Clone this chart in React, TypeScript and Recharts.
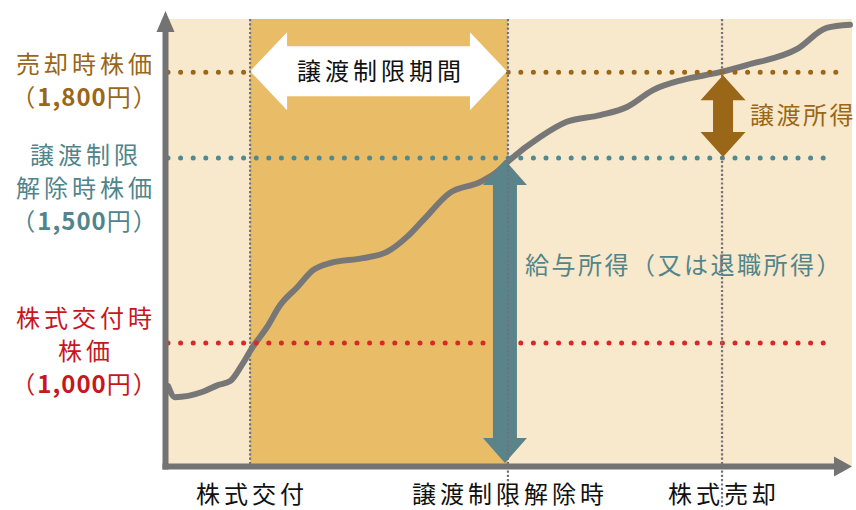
import React from "react";
import {
  ComposedChart,
  Line,
  XAxis,
  YAxis,
  ReferenceArea,
  ReferenceLine,
} from "recharts";

// time axis runs 0..100, price is a relative height 0..100 (conceptual chart)
const times = [
  0, 1.0, 5.1, 7.3, 9.1, 10.8, 12.3, 14.5, 16.4, 18.9, 21.2, 23.7, 28.5, 32.0,
  34.9, 37.3, 41.2, 45.6, 48.1, 50.0, 54.4, 58.3, 63.2, 67.1, 70.9, 75.3, 80.7,
  84.6, 92.0, 96.3, 99.7,
];
const prices = [
  17.9, 15.4, 16.6, 18.1, 19.0, 22.6, 26.4, 31.1, 36.0, 40.0, 43.8, 45.4, 46.5,
  47.9, 51.2, 55.0, 61.1, 63.5, 65.8, 68.5, 73.6, 77.0, 78.5, 80.3, 84.1, 86.4,
  88.1, 89.7, 93.3, 98.0, 98.7,
];

// events on the time axis
const eventTimes = [12, 49.7, 81];
const eventLabels = ["株式交付", "譲渡制限解除時", "株式売却"];

// price levels (交付時 / 解除時 / 売却時)
const priceLevels = [27.5, 68.9, 88.1];
const levelNames = [["株式交付時", "株価"], ["譲渡制限", "解除時株価"], ["売却時株価"]];
const levelAmounts = ["1,000", "1,500", "1,800"];
const levelColors = ["#c8161d", "#4f858b", "#9a6617"];
const dotColors = ["#d62a28", "#4e8a90", "#9a6617"];
// where the first label line sits relative to the level line
const labelShift = [-25.5, -3, -8];

const data = times.map((t, i) => ({ t, v: prices[i] }));

const FONT = "'Noto Sans CJK JP', 'Noto Sans', sans-serif";
const AXIS = "#737373";
const LIGHT_BG = "#f8e8cc";
const BAND_BG = "#e9bc68";
const TEAL_ARROW = "#5a848a";
const BROWN = "#9a6617";

function doubleArrowPath(
  x1: number,
  y1: number,
  x2: number,
  y2: number,
  shaft: number,
  head: number,
  headLen: number
) {
  const dx = x2 - x1;
  const dy = y2 - y1;
  const L = Math.hypot(dx, dy);
  const ux = dx / L;
  const uy = dy / L;
  const nx = -uy;
  const ny = ux;
  const pts = [
    [0, 0],
    [headLen, head],
    [headLen, shaft],
    [L - headLen, shaft],
    [L - headLen, head],
    [L, 0],
    [L - headLen, -head],
    [L - headLen, -shaft],
    [headLen, -shaft],
    [headLen, -head],
  ];
  return (
    pts
      .map(([a, b], i) => `${i ? "L" : "M"}${x1 + ux * a + nx * b},${y1 + uy * a + ny * b}`)
      .join(" ") + "Z"
  );
}

function LevelTick(props: any) {
  const { x, y, payload } = props;
  const i = priceLevels.indexOf(payload.value);
  if (i < 0) return null;
  const names = levelNames[i];
  const cx = x - 74;
  const top = y + labelShift[i];
  const pitch = 33;
  const color = levelColors[i];
  return (
    <g fontFamily={FONT} fontSize={24} fill={color} textAnchor="middle">
      {names.map((n, k) => (
        <text key={k} x={cx} y={top + k * pitch + 9} letterSpacing={4}>
          {n}
        </text>
      ))}
      <text x={cx - 1} y={top + names.length * pitch + 9} letterSpacing={2}>
        <tspan>（</tspan>
        <tspan fontWeight="bold" letterSpacing={1}>
          {levelAmounts[i]}
        </tspan>
        <tspan>円）</tspan>
      </text>
    </g>
  );
}

function EventTick(props: any) {
  const { x, y, payload } = props;
  const i = eventTimes.indexOf(payload.value);
  if (i < 0) return null;
  return (
    <text
      x={x + 2}
      y={y + 29}
      textAnchor="middle"
      fontFamily={FONT}
      fontSize={24}
      fill="#111"
      letterSpacing={4}
    >
      {eventLabels[i]}
    </text>
  );
}

export default function App() {
  return (
    <div style={{ position: "absolute", left: 0, top: 0, background: "#fff" }}>
      <ComposedChart
        width={856}
        height={510}
        data={data}
        margin={{ top: 19, right: 4, bottom: 0, left: 0 }}
      >
        <XAxis
          type="number"
          dataKey="t"
          domain={[0, 100]}
          ticks={eventTimes}
          interval={0}
          height={44}
          axisLine={false}
          tickLine={false}
          tick={<EventTick />}
          zIndex={90}
        />
        <YAxis
          type="number"
          domain={[0, 100]}
          ticks={priceLevels}
          interval={0}
          width={168}
          axisLine={false}
          tickLine={false}
          tick={<LevelTick />}
          zIndex={90}
        />

        {/* backgrounds: whole plot and the restriction period */}
        <ReferenceArea
          x1={0}
          x2={100}
          y1={0}
          y2={100}
          fill={LIGHT_BG}
          fillOpacity={1}
          stroke="none"
          zIndex={10}
        />
        <ReferenceArea
          x1={eventTimes[0]}
          x2={eventTimes[1]}
          y1={0}
          y2={100}
          fill={BAND_BG}
          fillOpacity={1}
          stroke="none"
          zIndex={11}
        />

        <Line
          type="monotone"
          dataKey="v"
          stroke="#777777"
          strokeWidth={6}
          strokeLinejoin="round"
          strokeLinecap="round"
          dot={false}
          activeDot={false}
          isAnimationActive={false}
          zIndex={20}
        />

        {/* dotted price level lines */}
        {priceLevels.map((lv, i) => (
          <ReferenceLine
            key={`lv-${i}`}
            segment={[
              { x: 0, y: lv },
              { x: i === 2 ? 98.2 : 96.9, y: lv },
            ]}
            stroke={dotColors[i]}
            strokeWidth={5}
            strokeLinecap="round"
            strokeDasharray="0 12.6"
            zIndex={30}
          />
        ))}

        {/* 譲渡制限期間 */}
        <ReferenceLine
          segment={[
            { x: eventTimes[0], y: priceLevels[2] },
            { x: eventTimes[1], y: priceLevels[2] },
          ]}
          zIndex={40}
          shape={(p: any) => (
            <g>
              <path d={doubleArrowPath(p.x1, p.y1 - 1, p.x2 - 1, p.y2 - 1, 25, 39, 37)} fill="#fff" />
              <text
                x={(p.x1 + p.x2) / 2 + 2}
                y={p.y1 + 8}
                textAnchor="middle"
                fontFamily={FONT}
                fontSize={24}
                fill="#111"
                letterSpacing={4}
              >
                譲渡制限期間
              </text>
            </g>
          )}
        />

        {/* 給与所得 arrow */}
        <ReferenceLine
          segment={[
            { x: eventTimes[1], y: 0 },
            { x: eventTimes[1], y: priceLevels[1] },
          ]}
          zIndex={41}
          shape={(p: any) => {
            const bottom = Math.max(p.y1, p.y2);
            const top = Math.min(p.y1, p.y2);
            const x = p.x1 - 3;
            return (
              <g>
                <path d={doubleArrowPath(x, bottom - 3, x, top + 2, 12, 22, 25)} fill={TEAL_ARROW} />
                <text
                  x={x + 20}
                  y={(top + bottom) / 2 - 38}
                  fontFamily={FONT}
                  fontSize={24}
                  fill="#4f858b"
                  letterSpacing={2.5}
                >
                  給与所得（又は退職所得）
                </text>
              </g>
            );
          }}
        />

        {/* vertical dotted event lines */}
        {eventTimes.map((t, i) => (
          <ReferenceLine
            key={`ev-${i}`}
            x={t}
            zIndex={50}
            shape={(p: any) => {
              const top = Math.min(p.y1, p.y2);
              const bottom = Math.max(p.y1, p.y2) + (i === 0 ? 0 : 41);
              return (
                <line
                  x1={p.x1}
                  x2={p.x2}
                  y1={top}
                  y2={bottom}
                  stroke="#6f7380"
                  strokeWidth={2.2}
                  strokeDasharray="2.2 2.1"
                />
              );
            }}
          />
        ))}

        {/* 譲渡所得 arrow */}
        <ReferenceLine
          segment={[
            { x: eventTimes[2], y: priceLevels[2] },
            { x: eventTimes[2], y: priceLevels[1] },
          ]}
          zIndex={60}
          shape={(p: any) => {
            const top = Math.min(p.y1, p.y2);
            const bottom = Math.max(p.y1, p.y2);
            return (
              <g>
                <path d={doubleArrowPath(p.x1 + 1, top + 3, p.x1 + 1, bottom - 1, 10, 22.5, 25)} fill={BROWN} />
                <text
                  x={p.x1 + 28}
                  y={(top + bottom) / 2 + 9}
                  fontFamily={FONT}
                  fontSize={24}
                  fill={BROWN}
                  letterSpacing={2.5}
                >
                  譲渡所得
                </text>
              </g>
            );
          }}
        />

        {/* axes with arrow heads */}
        <ReferenceLine
          x={0}
          zIndex={70}
          shape={(p: any) => {
            const bottom = Math.max(p.y1, p.y2);
            const top = Math.min(p.y1, p.y2);
            const x = p.x1 - 2.5;
            return (
              <g>
                <line x1={x} x2={x} y1={bottom + 3.5} y2={top + 10} stroke={AXIS} strokeWidth={6} />
                <path d={`M${x - 9},${top + 13} L${x},${top - 8} L${x + 9},${top + 13} Z`} fill={AXIS} />
              </g>
            );
          }}
        />
        <ReferenceLine
          y={0}
          zIndex={71}
          shape={(p: any) => {
            const left = Math.min(p.x1, p.x2);
            const right = Math.max(p.x1, p.x2);
            const y = p.y1 + 0.5;
            return (
              <g>
                <line x1={left - 5.5} x2={right - 14} y1={y} y2={y} stroke={AXIS} strokeWidth={6} />
                <path d={`M${right - 18},${y - 10} L${right},${y} L${right - 18},${y + 10} Z`} fill={AXIS} />
              </g>
            );
          }}
        />
      </ComposedChart>
    </div>
  );
}
